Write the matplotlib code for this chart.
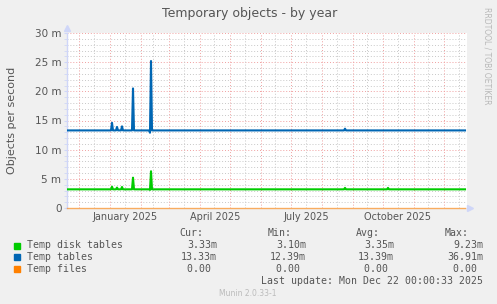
import numpy as np
import pandas as pd
import matplotlib
matplotlib.use('Agg')
import matplotlib.pyplot as plt

# daily values, milli-objects per second
start_day = '2024-11-19'
end_day = '2025-12-22'
tables_base = 13.30
disk_base = 3.20
spike_days = ['2025-01-03', '2025-01-08', '2025-01-13', '2025-01-24',
              '2025-02-10', '2025-02-11', '2025-08-24', '2025-10-06']
tables_spikes = [14.6, 13.9, 14.0, 20.5, 12.9, 25.2, 13.6, 13.3]
disk_spikes = [3.65, 3.5, 3.6, 5.2, 3.1, 6.3, 3.45, 3.45]

legend_names = ['Temp disk tables', 'Temp tables', 'Temp files']
legend_cur = ['3.33m', '13.33m', '0.00 ']
legend_min = ['3.10m', '12.39m', '0.00 ']
legend_avg = ['3.35m', '13.39m', '0.00 ']
legend_max = ['9.23m', '36.91m', '0.00 ']
colors = ['#00cc00', '#0066b3', '#ff8000']

days = pd.date_range(start_day, end_day, freq='D')
tables = pd.Series(tables_base, index=days)
disk = pd.Series(disk_base, index=days)
for d, t, k in zip(spike_days, tables_spikes, disk_spikes):
    tables[pd.Timestamp(d)] = t
    disk[pd.Timestamp(d)] = k
files = pd.Series(0.0, index=days)

W, H = 497, 304
fig = plt.figure(figsize=(W / 100, H / 100), dpi=100, facecolor='#f0f0f0')
ax = fig.add_axes([67 / W, (H - 208) / H, 400 / W, 175 / H])
ax.set_facecolor('white')

fg = '#555555'
xmin = pd.Timestamp('2024-11-19')
xmax = pd.Timestamp('2025-12-24')
ax.set_xlim(xmin, xmax)
ax.set_ylim(0, 30)

# grid
for y in range(1, 31):
    if y % 5:
        ax.axhline(y, color='#c8c8c8', lw=0.7, ls=(0, (1, 2)), zorder=1)
for y in range(5, 31, 5):
    ax.axhline(y, color='#f0a0a0', lw=0.7, ls=(0, (1, 2)), zorder=1)
months = pd.date_range('2024-12-01', '2025-12-01', freq='MS')
for m in months:
    ax.axvline(m, color='#f0a0a0', lw=0.7, ls=(0, (1, 2)), zorder=1)
    mid = m - pd.Timedelta(days=16)
    if mid > xmin:
        ax.axvline(mid, color='#c8c8c8', lw=0.7, ls=(0, (1, 2)), zorder=1)
ax.axvline(pd.Timestamp('2025-12-16'), color='#c8c8c8', lw=0.7, ls=(0, (1, 2)), zorder=1)

ax.plot(disk.index, disk.values, color=colors[0], lw=1.5, zorder=3)
ax.plot(tables.index, tables.values, color=colors[1], lw=1.5, zorder=3)
ax.plot(files.index, files.values, color=colors[2], lw=1.0, alpha=0.6, zorder=4, clip_on=False)

for s in ['top', 'right', 'bottom']:
    ax.spines[s].set_visible(False)
ax.spines['left'].set_color('#cfd6f8')
ax.spines['left'].set_linewidth(1.0)

ax.set_yticks(range(0, 31, 5))
ax.set_yticklabels(['0'] + ['%d m' % v for v in range(5, 31, 5)])
ax.set_yticks(range(0, 31), minor=True)
label_days = ['2025-01-16', '2025-04-16', '2025-07-16', '2025-10-16']
ax.set_xticks([pd.Timestamp(d) for d in label_days])
ax.set_xticklabels(['January 2025', 'April 2025', 'July 2025', 'October 2025'])
ax.tick_params(axis='x', length=0, pad=3, labelsize=7, labelcolor=fg)
ax.tick_params(axis='y', which='both', length=2, color='#cfd6f8', pad=2,
               labelsize=7.5, labelcolor=fg)

# arrows
ax.plot([xmin], [30.8], marker='^', ms=5, color='#cfd6f8', clip_on=False)
ax.plot([xmax + pd.Timedelta(days=3)], [0], marker='>', ms=5, color='#cfd6f8', clip_on=False)

fig.text(250 / W, 1 - 13 / H, 'Temporary objects - by year', ha='center', va='center',
         fontsize=9, color=fg)
fig.text(12 / W, 1 - 120 / H, 'Objects per second', rotation=90, ha='center', va='center',
         fontsize=8, color=fg)
fig.text(487 / W, 1 - 56 / H, 'RRDTOOL / TOBI OETIKER', rotation=270, ha='center', va='center',
         fontsize=5.5, color='#b8b8b8')

mono = 'DejaVu Sans Mono'
fs = 7.1
hdr_y = 233
for txt, xr in zip(['Cur:', 'Min:', 'Avg:', 'Max:'], [203, 292, 380, 469]):
    fig.text(xr / W, 1 - hdr_y / H, txt, ha='right', va='center', family=mono, fontsize=fs, color=fg)
for i in range(3):
    y = 1 - (245.5 + 11.8 * i) / H
    fig.patches.append(plt.Rectangle((14 / W, y - 3 / H), 6 / W, 6 / H, transform=fig.transFigure,
                                     color=colors[i], figure=fig))
    fig.text(27 / W, y, legend_names[i], ha='left', va='center', family=mono, fontsize=fs, color=fg)
    for col, xr in zip([legend_cur, legend_min, legend_avg, legend_max], [217, 306, 394, 483]):
        fig.text(xr / W, y, col[i], ha='right', va='center', family=mono, fontsize=fs, color=fg)
fig.text(483 / W, 1 - 281.5 / H, 'Last update: Mon Dec 22 00:00:33 2025', ha='right', va='center',
         family=mono, fontsize=fs, color=fg)
fig.text(248 / W, 1 - 293.5 / H, 'Munin 2.0.33-1', ha='center', va='center',
         fontsize=5.5, color='#bbbbbb')

fig.savefig('out.png', dpi=100, facecolor=fig.get_facecolor())
